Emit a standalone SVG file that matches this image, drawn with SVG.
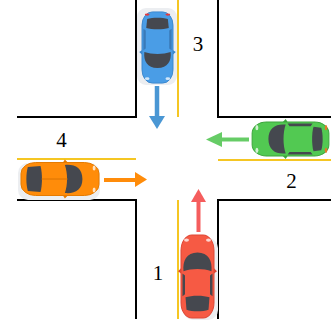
<svg xmlns="http://www.w3.org/2000/svg" width="331" height="331" viewBox="0 0 331 331">
<style>
.road{fill:none;stroke:#000;stroke-width:2}
.lane{fill:none;stroke:#f5c623;stroke-width:2}
.lbl{font-family:"Liberation Serif","Times New Roman",serif;font-size:21px;fill:#000;text-anchor:middle}
.glass{fill:#45484f}
.shadow{fill:#eceef1}
.light{fill:#fff;opacity:0.75}
.tail{fill:#e5383b}
</style>
<rect width="331" height="331" fill="#fff"/>
<g id="roads">
<path class="road" d="M136,0 V117 H17"/>
<path class="road" d="M218,0 V117 H331"/>
<path class="road" d="M17,200 H136 V319"/>
<path class="road" d="M331,200 H218 V319"/>
<path class="lane" d="M178,0 V117"/>
<path class="lane" d="M178,200 V319"/>
<path class="lane" d="M17,159 H136"/>
<path class="lane" d="M218,160 H331"/>
</g>
<g id="shadows">
<rect class="shadow" x="137" y="8" width="40" height="77" rx="9"/>
<rect class="shadow" x="18" y="163" width="82" height="37" rx="10"/>
<rect class="shadow" x="183" y="238" width="35" height="82" rx="10"/>
</g>
<g id="car3" transform="translate(157.5,47.5) rotate(180) scale(0.94,0.89)">
<rect x="-16.5" y="-40" width="33" height="80" rx="11" ry="15" fill="#4a9de6" stroke="#3a86cc" stroke-width="1"/>
<path d="M-16.5,-8 L-19.5,-5 L-16.5,-3 Z M16.5,-8 L19.5,-5 L16.5,-3 Z" fill="#3a86cc"/>
<path class="glass" d="M-14,-5 C-15,-15 -11,-23 0,-23 C11,-23 15,-15 14,-5 C6,-8 -6,-8 -14,-5 Z"/>
<path class="glass" d="M-12,22 C-6,20 6,20 12,22 L11,32 C5,34 -5,34 -11,32 Z"/>
<path d="M-15,-3 L-12.5,-1 L-12.5,19 L-15,21 Z M15,-3 L12.5,-1 L12.5,19 L15,21 Z" fill="#3a7ab8"/>
<ellipse class="light" cx="-11" cy="-35" rx="2.5" ry="1.5"/>
<ellipse class="light" cx="11" cy="-35" rx="2.5" ry="1.5"/>
<ellipse class="tail" cx="-11" cy="37" rx="2.5" ry="1.3"/>
<ellipse class="tail" cx="11" cy="37" rx="2.5" ry="1.3"/>
</g>
<g id="car2" transform="translate(290.5,139) rotate(-90) scale(1.03,0.96)">
<rect x="-16.5" y="-40" width="33" height="80" rx="11" ry="15" fill="#52c952" stroke="#3ca63c" stroke-width="1"/>
<path d="M-16.5,-8 L-19.5,-5 L-16.5,-3 Z M16.5,-8 L19.5,-5 L16.5,-3 Z" fill="#3ca63c"/>
<path class="glass" d="M-14,-5 C-15,-15 -11,-23 0,-23 C11,-23 15,-15 14,-5 C6,-8 -6,-8 -14,-5 Z"/>
<path class="glass" d="M-12,24 C-6,22 6,22 12,24 L11,32 C5,34 -5,34 -11,32 Z"/>
<path d="M-15,-3 L-12.5,-1 L-12.5,21 L-15,23 Z M15,-3 L12.5,-1 L12.5,21 L15,23 Z" class="glass"/>
<ellipse class="light" cx="-11" cy="-35" rx="2.5" ry="1.5"/>
<ellipse class="light" cx="11" cy="-35" rx="2.5" ry="1.5"/>
<ellipse cx="-11" cy="37" rx="2.5" ry="1.3" fill="#e07a2a"/>
<ellipse cx="11" cy="37" rx="2.5" ry="1.3" fill="#e07a2a"/>
</g>
<g id="car4" transform="translate(60,179) rotate(90) scale(1,0.975)">
<rect x="-16.5" y="-40" width="33" height="80" rx="11" ry="15" fill="#ff8c0a" stroke="#e57a00" stroke-width="1"/>
<path d="M-16.5,-8 L-19.5,-5 L-16.5,-3 Z M16.5,-8 L19.5,-5 L16.5,-3 Z" fill="#e57a00"/>
<path class="glass" d="M-14,-5 C-15,-15 -11,-23 0,-23 C11,-23 15,-15 14,-5 C6,-8 -6,-8 -14,-5 Z"/>
<path class="glass" d="M-13,20 C-6,18 6,18 13,20 L12,33 C5,35 -5,35 -12,33 Z"/>
<path d="M0,-8 V19" stroke="#d06e00" stroke-width="0.8"/>
<ellipse class="light" cx="-11" cy="-35" rx="2.5" ry="1.5"/>
<ellipse class="light" cx="11" cy="-35" rx="2.5" ry="1.5"/>
</g>
<g id="car1" transform="translate(197.5,276.5) scale(1,1.04)">
<rect x="-16.5" y="-40" width="33" height="80" rx="11" ry="15" fill="#f65a44" stroke="#de4634" stroke-width="1"/>
<path d="M-16.5,-8 L-19.5,-5 L-16.5,-3 Z M16.5,-8 L19.5,-5 L16.5,-3 Z" fill="#de4634"/>
<path class="glass" d="M-14,-5 C-15,-15 -11,-23 0,-23 C11,-23 15,-15 14,-5 C6,-8 -6,-8 -14,-5 Z"/>
<path class="glass" d="M-12,20 C-6,18 6,18 12,20 L11,32 C5,34 -5,34 -11,32 Z"/>
<path d="M-15,-3 L-12.5,-1 L-12.5,17 L-15,19 Z M15,-3 L12.5,-1 L12.5,17 L15,19 Z" class="glass"/>
<ellipse class="light" cx="-11" cy="-35" rx="2.5" ry="1.5"/>
<ellipse class="light" cx="11" cy="-35" rx="2.5" ry="1.5"/>
</g>
<g id="connectors">
<path d="M157,86 V117" stroke="#4a97d4" stroke-width="4.5"/>
<path d="M149,116 L165,116 L157,129 Z" fill="#4a97d4"/>
<path d="M249,139.5 H221" stroke="#66cc66" stroke-width="4"/>
<path d="M222,132 L222,147 L206,139.5 Z" fill="#66cc66"/>
<path d="M104,180 H136" stroke="#ff8c0a" stroke-width="4"/>
<path d="M135,172 L135,187 L147,179.5 Z" fill="#ff8c0a"/>
<path d="M198.5,232 V201" stroke="#f55d5d" stroke-width="4"/>
<path d="M191,202 L206,202 L198.5,189 Z" fill="#f55d5d"/>
</g>
<g id="labels">
<text class="lbl" x="198" y="51">3</text>
<text class="lbl" x="291.5" y="188">2</text>
<text class="lbl" x="61.5" y="147">4</text>
<text class="lbl" x="158" y="280">1</text>
</g>
</svg>
